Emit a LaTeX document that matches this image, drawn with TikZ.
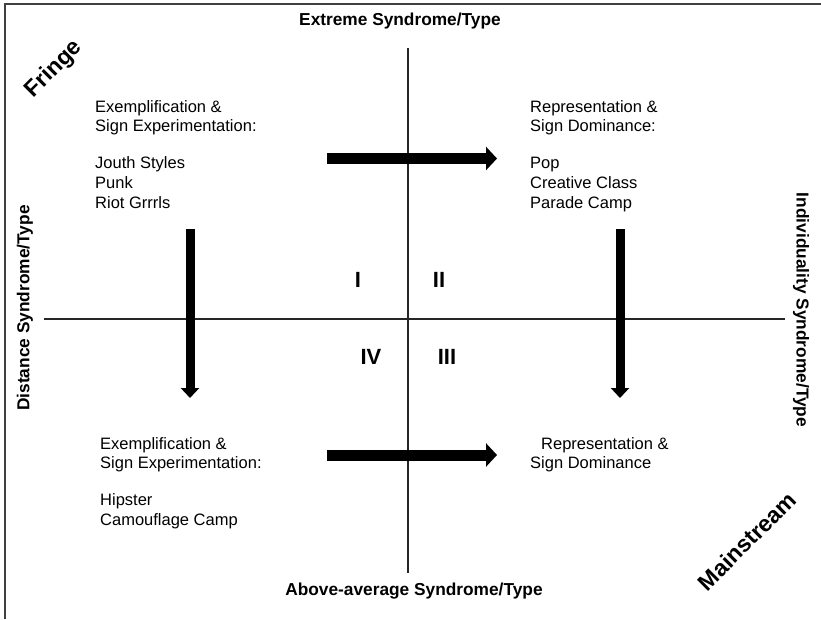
\documentclass[tikz,border=0pt]{standalone}
\usepackage{fontspec}
\setmainfont{Liberation Sans}
\usetikzlibrary{arrows.meta}

\begin{document}
\begin{tikzpicture}[x=1pt,y=-1pt,
  axis/.style={draw=black!85,line width=1.1pt},
  axislabel/.style={font=\fontsize{17.3}{19}\selectfont\bfseries,inner sep=0pt},
  block/.style={font=\fontsize{16.5}{19.8}\selectfont,align=left,anchor=north west,inner sep=0pt},
  quad/.style={font=\fontsize{22}{24}\selectfont\bfseries,inner sep=0pt},
  corner/.style={font=\fontsize{23}{26}\selectfont\bfseries,rotate=45,inner sep=0pt},
  hshift/.style={line width=11pt,-{Triangle[length=11pt,width=23pt]}},
  vshift/.style={line width=9pt,-{Triangle[length=10pt,width=18pt]}}]
  \useasboundingbox (0,0) rectangle (821,619);
  % frame
  \draw[draw=black!75,line width=2pt] (5,619) -- (5,4) -- (821,4);
  % axes
  \coordinate (top) at (408,48);
  \coordinate (bottom) at (408,573);
  \coordinate (left) at (44,319);
  \coordinate (right) at (785,319);
  \draw[axis] (top) -- (bottom);
  \draw[axis] (left) -- (right);
  \node[axislabel] (extreme) at (400,21) {Extreme Syndrome/Type};
  \node[axislabel] (above) at (414,591) {Above-average Syndrome/Type};
  \node[axislabel,rotate=90] (distance) at (25,308) {Distance Syndrome/Type};
  \node[axislabel,rotate=-90] (individ) at (801,310) {Individuality Syndrome/Type};
  \node[corner] (fringe) at (54,69) {Fringe};
  \node[corner] (mainstream) at (747,541) {Mainstream};
  % quadrants
  \foreach \x/\y/\lab in {358/280/I,439/280/II,447/357/III,371/357/IV} {
    \node[quad] (q\lab) at (\x,\y) {\lab};
  }
  % text blocks
  \node[block] (exemtop) at (95,100) {Exemplification \&\\Sign Experimentation:\\[16.8pt]Jouth Styles\\Punk\\Riot Grrrls};
  \node[block] (reptop) at (530,100) {Representation \&\\Sign Dominance:\\[16.8pt]Pop\\Creative Class\\Parade Camp};
  \node[block] (exembot) at (100,437) {Exemplification \&\\Sign Experimentation:\\[16.8pt]Hipster\\Camouflage Camp};
  \node[block] (repbot) at (530,437) {\hspace*{11pt}Representation \&\\Sign Dominance};
  % shift arrows
  \coordinate (ta) at (327,158.5);
  \coordinate (tb) at (497,158.5);
  \coordinate (ba) at (327,455);
  \coordinate (bb) at (497,455);
  \coordinate (la) at (190,229);
  \coordinate (lb) at (190,398);
  \coordinate (ra) at (620,229);
  \coordinate (rb) at (620,398);
  \draw[hshift] (ta) -- (tb);
  \draw[hshift] (ba) -- (bb);
  \draw[vshift] (la) -- (lb);
  \draw[vshift] (ra) -- (rb);
\end{tikzpicture}
\end{document}
